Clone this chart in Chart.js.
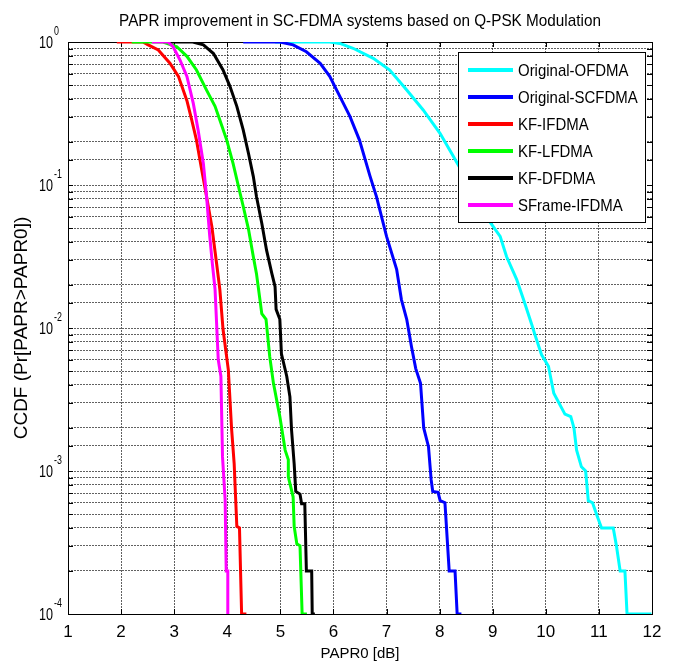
<!DOCTYPE html>
<html>
<head>
<meta charset="utf-8">
<title>PAPR CCDF - SC-FDMA</title>
<script src="https://cdn.jsdelivr.net/npm/chart.js@4.4.1/dist/chart.umd.min.js"></script>
<style>
  html, body { margin: 0; padding: 0; background: #fff; }
  #wrap { width: 673px; height: 666px; }
</style>
</head>
<body>
<div id="wrap"><canvas id="ccdfChart" width="673" height="666"></canvas></div>
<script>
// ============================================================================
// DATA
// ============================================================================
const chartTitle = 'PAPR improvement in SC-FDMA systems based on Q-PSK Modulation';
const xAxisLabel = 'PAPR0 [dB]';
const yAxisLabel = 'CCDF (Pr[PAPR>PAPR0])';

const xTickValues = [1, 2, 3, 4, 5, 6, 7, 8, 9, 10, 11, 12];
const yDecades = [0, -1, -2, -3, -4];

const seriesNames = ['Original-OFDMA', 'Original-SCFDMA', 'KF-IFDMA', 'KF-LFDMA', 'KF-DFDMA', 'SFrame-IFDMA'];
const seriesColors = ['#00ffff', '#0000ff', '#ff0000', '#00ff00', '#000000', '#ff00ff'];

// Original-OFDMA
const ofdmaX = [4.90, 5.93, 6.12, 6.37, 6.75, 7.06, 7.38, 7.69, 8.01, 8.26, 8.60, 8.95, 9.14, 9.26, 9.45, 9.58, 9.73, 9.79, 9.92, 10.05,
  10.15, 10.36, 10.47, 10.53, 10.58, 10.67, 10.75, 10.80, 10.88, 10.97, 11.05, 11.27, 11.33, 11.40, 11.49, 11.53, 11.99];
const ofdmaY = [1, 1, 0.977, 0.904, 0.769, 0.637, 0.461, 0.335, 0.229, 0.158, 0.095, 0.055, 0.0437, 0.0316, 0.0219, 0.0158, 0.0107, 0.0091, 0.0065, 0.0054,
  0.0035, 0.0025, 0.0024, 0.0020, 0.0014, 0.00107, 0.0010, 0.00062, 0.00060, 0.00048, 0.00040, 0.00040, 0.00030, 0.00020, 0.00020, 0.0001, 0.0001];

// Original-SCFDMA
const scfdmaX = [4.30, 4.99, 5.24, 5.49, 5.75, 5.93, 6.12, 6.31, 6.49, 6.69, 6.81, 7.00, 7.19, 7.28, 7.38, 7.47, 7.55, 7.64, 7.70, 7.79,
  7.84, 7.87, 7.97, 8.01, 8.10, 8.18, 8.29, 8.33, 8.41];
const scfdmaY = [1, 1, 0.955, 0.855, 0.71, 0.575, 0.417, 0.302, 0.206, 0.115, 0.083, 0.0437, 0.0257, 0.0158, 0.0115, 0.0074, 0.0052, 0.0041, 0.0020, 0.00148,
  0.00087, 0.00072, 0.00071, 0.00062, 0.00060, 0.00020, 0.00020, 0.0001, 0.0001];

// KF-IFDMA
const kfIfdmaX = [1.92, 2.41, 2.51, 2.70, 2.92, 3.08, 3.24, 3.33, 3.42, 3.52, 3.61, 3.71, 3.80, 3.86, 3.92, 4.02, 4.08, 4.13, 4.18, 4.23, 4.27, 4.36];
const kfIfdmaY = [1, 1, 0.955, 0.879, 0.71, 0.575, 0.389, 0.285, 0.206, 0.127, 0.083, 0.051, 0.028, 0.0186, 0.0098, 0.0051, 0.0020, 0.00112, 0.00041, 0.00040, 0.0001, 0.0001];

// KF-LFDMA
const kfLfdmaX = [2.20, 2.79, 3.05, 3.24, 3.42, 3.61, 3.77, 3.86, 3.99, 4.11, 4.21, 4.30, 4.40, 4.49, 4.55, 4.65, 4.73, 4.80, 4.87, 4.99,
  5.09, 5.15, 5.15, 5.24, 5.26, 5.31, 5.37, 5.41, 5.50];
const kfLfdmaY = [1, 1, 0.927, 0.794, 0.637, 0.461, 0.355, 0.285, 0.206, 0.141, 0.098, 0.071, 0.049, 0.0316, 0.024, 0.0126, 0.0115, 0.0063, 0.0041, 0.0024,
  0.0014, 0.0012, 0.00091, 0.00066, 0.00041, 0.00031, 0.00030, 0.0001, 0.0001];

// KF-DFDMA
const kfDfdmaX = [2.92, 3.35, 3.55, 3.74, 3.92, 4.05, 4.18, 4.30, 4.40, 4.49, 4.55, 4.65, 4.74, 4.84, 4.90, 4.92, 4.99, 5.02, 5.12, 5.18,
  5.21, 5.26, 5.29, 5.37, 5.40, 5.46, 5.49, 5.59, 5.60, 5.65];
const kfDfdmaY = [1, 1, 0.955, 0.83, 0.637, 0.49, 0.355, 0.243, 0.166, 0.115, 0.083, 0.054, 0.035, 0.024, 0.0195, 0.0135, 0.0115, 0.0066, 0.0046, 0.0033,
  0.00195, 0.00112, 0.00072, 0.00069, 0.00059, 0.00059, 0.00020, 0.00020, 0.0001, 0.0001];

// SFrame-IFDMA
const sframeX = [2.58, 2.88, 2.98, 3.11, 3.24, 3.36, 3.45, 3.55, 3.61, 3.67, 3.72, 3.77, 3.83, 3.88, 3.91, 3.96, 3.98, 4.01, 4.01];
const sframeY = [1, 1, 0.927, 0.748, 0.575, 0.372, 0.243, 0.141, 0.083, 0.0437, 0.028, 0.0186, 0.0060, 0.0046, 0.00126, 0.00063, 0.00020, 0.00020, 0.0001];

const seriesX = [ofdmaX, scfdmaX, kfIfdmaX, kfLfdmaX, kfDfdmaX, sframeX];
const seriesY = [ofdmaY, scfdmaY, kfIfdmaY, kfLfdmaY, kfDfdmaY, sframeY];

// ============================================================================
// HELPERS
// ============================================================================
const FONT = '"Liberation Sans", Arial, sans-serif';

// text squeezed horizontally, the figure uses a narrow Helvetica
function narrowText(ctx, text, x, y, size, sx, align, baseline) {
  ctx.save();
  ctx.font = size + 'px ' + FONT;
  ctx.textAlign = align || 'left';
  ctx.textBaseline = baseline || 'middle';
  ctx.translate(x, y);
  ctx.scale(sx, 1);
  ctx.fillText(text, 0, 0);
  ctx.restore();
}

// ============================================================================
// PLUGINS: axes box + inner ticks (under the curves), then legend and labels
// ============================================================================
const matlabFrame = {
  id: 'matlabFrame',
  beforeDatasetsDraw(chart) {
    const { ctx, chartArea: a, scales: { x, y } } = chart;
    ctx.save();
    ctx.strokeStyle = '#000';
    ctx.lineWidth = 1;

    // inward tick marks
    ctx.beginPath();
    xTickValues.forEach(v => {
      const px = Math.round(x.getPixelForValue(v)) + 0.5;
      ctx.moveTo(px, a.bottom); ctx.lineTo(px, a.bottom - 5);
      ctx.moveTo(px, a.top); ctx.lineTo(px, a.top + 5);
    });
    y.ticks.forEach(t => {
      const py = Math.round(y.getPixelForValue(t.value)) + 0.5;
      ctx.moveTo(a.left, py); ctx.lineTo(a.left + 5, py);
      ctx.moveTo(a.right, py); ctx.lineTo(a.right - 5, py);
    });
    ctx.stroke();

    // axes box
    ctx.strokeRect(Math.round(a.left) + 0.5, Math.round(a.top) + 0.5, Math.round(a.right - a.left), Math.round(a.bottom - a.top));
    ctx.restore();
  },
  afterDatasetsDraw(chart) {
    const { ctx, chartArea: a, scales: { y } } = chart;
    ctx.save();
    ctx.fillStyle = '#000';

    // title centred over the axes
    narrowText(ctx, chartTitle, (a.left + a.right) / 2, 21, 17, 0.9, 'center', 'middle');

    // y decade labels 10^k
    yDecades.forEach(d => {
      const py = y.getPixelForValue(Math.pow(10, d));
      narrowText(ctx, '10', a.left - 15, py + 1.5, 17, 0.74, 'right', 'middle');
      narrowText(ctx, String(d), a.left - 14, py - 10, 12, 0.74, 'left', 'middle');
    });

    // legend box, top right inside the axes
    const lx = a.right - 194, ly = a.top + 10, lw = 187, lh = 170;
    ctx.fillStyle = '#fff';
    ctx.fillRect(lx, ly, lw, lh);
    ctx.strokeStyle = '#000';
    ctx.lineWidth = 1;
    ctx.strokeRect(Math.round(lx) + 0.5, Math.round(ly) + 0.5, lw, lh);
    seriesNames.forEach((name, i) => {
      const ry = ly + 18 + i * 27;
      ctx.strokeStyle = seriesColors[i];
      ctx.lineWidth = 4;
      ctx.beginPath();
      ctx.moveTo(lx + 10, ry);
      ctx.lineTo(lx + 55, ry);
      ctx.stroke();
      ctx.fillStyle = '#000';
      narrowText(ctx, name, lx + 60, ry + 1, 17, 0.88, 'left', 'middle');
    });
    ctx.restore();
  }
};

// ============================================================================
// CHART
// ============================================================================
const gridStyle = { color: 'rgba(0,0,0,0.62)', lineWidth: 1, drawTicks: false };

const datasets = seriesNames.map((name, i) => ({
  label: name,
  data: seriesX[i].map((xv, k) => ({ x: xv, y: seriesY[i][k] })),
  borderColor: seriesColors[i],
  backgroundColor: seriesColors[i],
  borderWidth: 3,
  pointRadius: 0,
  tension: 0,
  order: seriesNames.length - i
}));

new Chart(document.getElementById('ccdfChart'), {
  type: 'line',
  data: { datasets },
  options: {
    responsive: false,
    animation: false,
    layout: { padding: { top: 42, right: 21, left: 0, bottom: 0 } },
    plugins: {
      legend: { display: false },
      title: { display: false },
      tooltip: { enabled: false }
    },
    scales: {
      x: {
        type: 'linear',
        min: 1,
        max: 12,
        afterBuildTicks: s => { s.ticks = xTickValues.map(v => ({ value: v })); },
        afterFit: s => { s.height = 52; },
        grid: gridStyle,
        border: { display: false, dash: [2, 1] },
        ticks: { color: '#000', font: { family: FONT, size: 17 }, padding: 8 },
        title: { display: true, text: xAxisLabel, color: '#000', font: { family: FONT, size: 15 }, padding: { top: 0, bottom: 3 } }
      },
      y: {
        type: 'logarithmic',
        min: 1e-4,
        max: 1,
        afterFit: s => { s.width = 68; },
        grid: gridStyle,
        border: { display: false, dash: [2, 1] },
        ticks: { display: false },
        title: { display: true, text: yAxisLabel, color: '#000', font: { family: FONT, size: 19 }, padding: { top: 10, bottom: 0 } }
      }
    }
  },
  plugins: [matlabFrame]
});
</script>
</body>
</html>
